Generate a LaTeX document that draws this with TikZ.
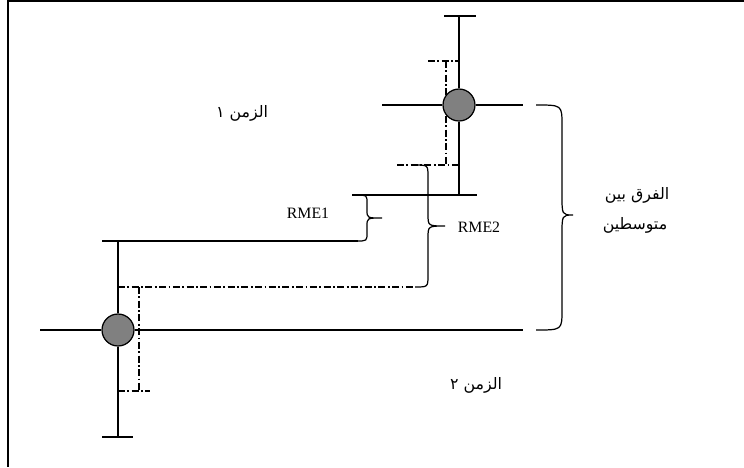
\documentclass[tikz,border=0pt]{standalone}
\usepackage{fontspec}
\setmainfont{Liberation Serif}
\newfontfamily\arabicfont[Script=Arabic]{DejaVu Sans}
\TeXXeTstate=1

% curly brace opening to the right: ends x, top y, bottom y, spine x, tip x, tip y, curl
\newcommand{\spreadbrace}[7]{%
  \draw (#1,#2) .. controls (#4,#2) .. (#4,#2+#7) -- (#4,#6-#7)
    .. controls (#4,#6) .. (#5,#6) .. controls (#4,#6) .. (#4,#6+#7)
    -- (#4,#3-#7) .. controls (#4,#3) .. (#1,#3);}

\begin{document}
\begin{tikzpicture}[
  x=0.02cm, y=-0.02cm, line width=0.7pt,
  mean/.style={circle,draw,fill=gray,minimum size=0.64cm,inner sep=0pt},
  dashdot/.style={dash pattern=on 4pt off 1.4pt on 1pt off 1.4pt},
  lbl/.style={font=\fontsize{9}{11}\selectfont},
  arlbl/.style={font=\arabicfont\fontsize{9}{11}\selectfont}
]
  \useasboundingbox (0,0) rectangle (744,467);
  \draw (744,1) -- (8,1) -- (8,467);

  % spread of each mean (behind the circles)
  \draw[dashdot] (428,61) -- (459,61);
  \draw[dashdot] (446,61) -- (446,165);
  \draw[dashdot] (397,165) -- (459,165);
  \draw[dashdot] (118,287) -- (413,287);
  \draw[dashdot] (139,287) -- (139,391);
  \draw[dashdot] (118,391) -- (150,391);

  % time 1
  \node[mean] (m1) at (459,105) {};
  \coordinate (m1top) at (459,16);
  \coordinate (m1bot) at (459,195);
  \coordinate (m1left) at (382,105);
  \coordinate (m1right) at (523,105);
  \draw (444,16) -- (476,16);
  \draw (352,195) -- (477,195);
  \draw (m1top) -- (m1);
  \draw (m1) -- (m1bot);
  \draw (m1left) -- (m1);
  \draw (m1) -- (m1right);

  % time 2
  \node[mean] (m2) at (118,330) {};
  \coordinate (m2top) at (118,241);
  \coordinate (m2bot) at (118,437);
  \coordinate (m2left) at (40,330);
  \coordinate (m2right) at (523,330);
  \draw (102,241) -- (358,241);
  \draw (102,437) -- (133,437);
  \draw (m2top) -- (m2);
  \draw (m2) -- (m2bot);
  \draw (m2left) -- (m2);
  \draw (m2) -- (m2right);

  % braces
  \spreadbrace{356}{195}{241}{367}{382}{218}{8}
  \spreadbrace{415}{165}{287}{428}{445}{226}{12}
  \spreadbrace{536}{105}{330}{562}{573}{215}{20}

  \node[lbl] (rme1) at (308,213) {RME1};
  \node[lbl] (rme2) at (479,227) {RME2};
  \node[arlbl] (time1) at (242,113) {\beginR الزمن ١\endR};
  \node[arlbl] (time2) at (476,385) {\beginR الزمن ٢\endR};
  \node[arlbl] (diff1) at (637,195) {\beginR الفرق بين\endR};
  \node[arlbl] (diff2) at (635,225) {\beginR متوسطين\endR};
\end{tikzpicture}
\end{document}
